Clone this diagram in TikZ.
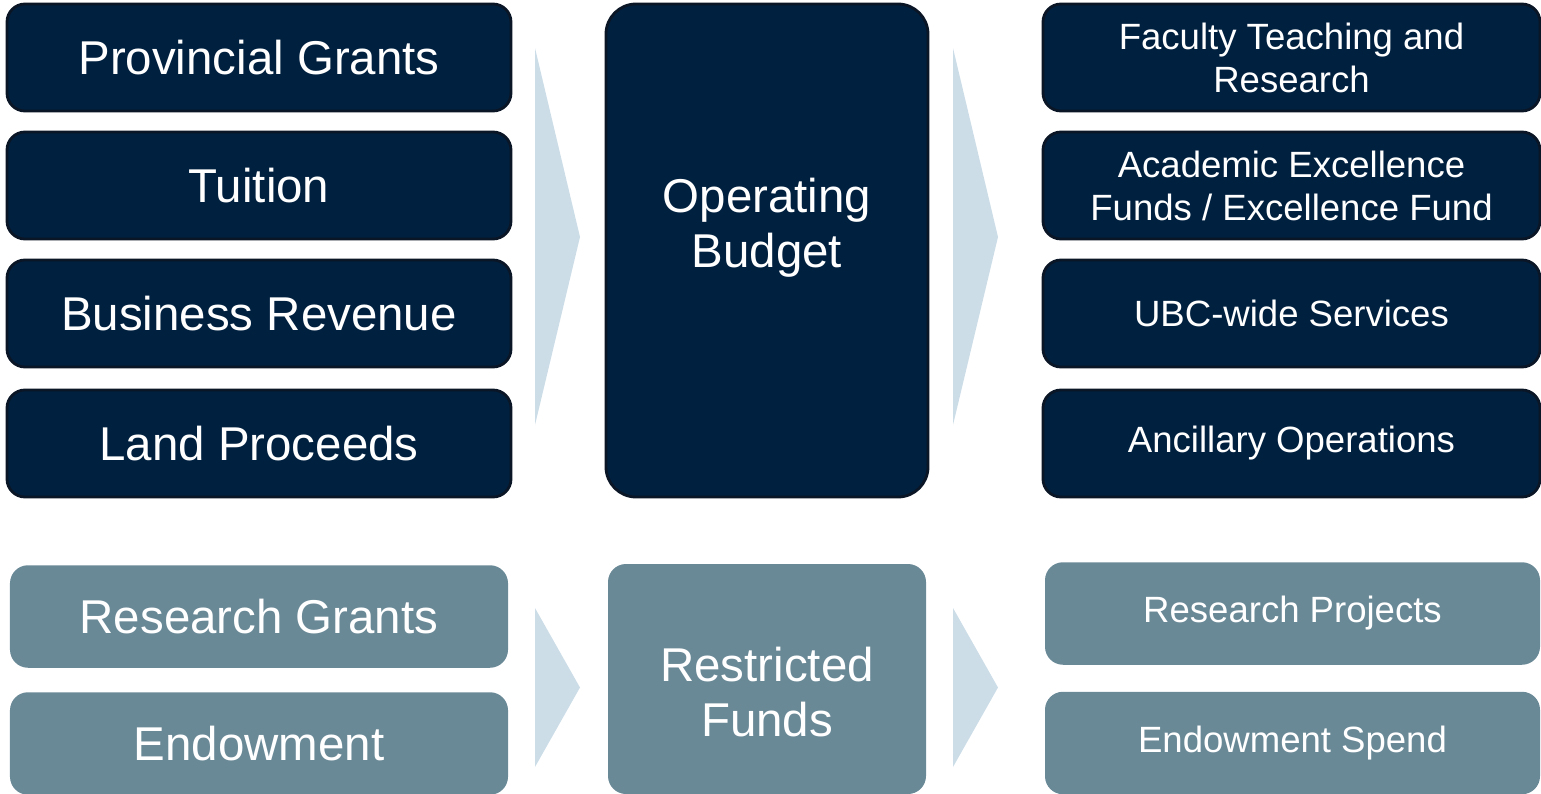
\documentclass[tikz,border=0pt]{standalone}
\usepackage{fontspec}
\setmainfont{Liberation Sans}
\definecolor{navy}{RGB}{0,32,63}
\definecolor{navyedge}{RGB}{10,22,38}
\definecolor{slate}{RGB}{106,137,151}
\definecolor{paleblue}{RGB}{204,221,232}

\begin{document}
\begin{tikzpicture}[
    box/.style={rectangle, rounded corners=0.36cm, text=white, align=center, inner sep=0pt},
    source/.style={box, fill=navy, draw=navyedge, line width=1.6pt, minimum width=10.08cm, minimum height=2.14cm, font=\fontsize{27}{32}\selectfont},
    use/.style={box, fill=navy, draw=navyedge, line width=1.6pt, minimum width=9.94cm, minimum height=2.14cm, font=\fontsize{20.8}{24.4}\selectfont},
    budget/.style={box, fill=navy, draw=navyedge, line width=1.6pt, rounded corners=0.6cm, minimum width=6.44cm, minimum height=9.86cm},
    rsource/.style={box, fill=slate, minimum width=9.96cm, minimum height=2.05cm, font=\fontsize{27}{32}\selectfont},
    ruse/.style={box, fill=slate, minimum width=9.9cm, minimum height=2.05cm, font=\fontsize{20.8}{24.4}\selectfont},
    fund/.style={box, fill=slate, minimum width=6.36cm, minimum height=4.6cm},
    bigtext/.style={text=white, align=center, font=\fontsize{27}{31.5}\selectfont},
    flow/.style={fill=paleblue}
]
\useasboundingbox (0,0) rectangle (30.82,-15.88);
\clip (0,0) rectangle (30.82,-15.88);

% Operating side
\node[source] (PG) at (5.18,-1.15) {Provincial Grants};
\node[source] (TU) at (5.18,-3.71) {Tuition};
\node[source] (BR) at (5.18,-6.27) {Business Revenue};
\node[source] (LP) at (5.18,-8.87) {Land Proceeds};

\node[budget] (OB) at (15.34,-5.01) {};
\node[bigtext] (OB-text) at (15.34,-4.56) {Operating\\Budget};

\node[use] (FT) at (25.83,-1.15) {Faculty Teaching and\\Research};
\node[use] (AE) at (25.83,-3.71) {Academic Excellence\\Funds / Excellence Fund};
\node[use] (US) at (25.83,-6.27) {UBC-wide Services};
\node[use] (AO) at (25.83,-8.87) {Ancillary Operations};

% Restricted side
\node[rsource] (RG) at (5.18,-12.33) {Research Grants};
\node[rsource] (EN) at (5.18,-14.87) {Endowment};

\node[fund] (RF) at (15.34,-13.58) {};
\node[bigtext] (RF-text) at (15.34,-13.84) {Restricted\\Funds};

\node[ruse] (RP) at (25.85,-12.27) {Research Projects};
\node[ruse] (ES) at (25.85,-14.86) {Endowment Spend};

% Flow arrows
\fill[flow] (10.70,-0.96) -- (11.60,-4.74) -- (10.70,-8.50) -- cycle;
\fill[flow] (19.06,-0.96) -- (19.96,-4.74) -- (19.06,-8.50) -- cycle;
\fill[flow] (10.70,-12.16) -- (11.60,-13.75) -- (10.70,-15.34) -- cycle;
\fill[flow] (19.06,-12.16) -- (19.96,-13.75) -- (19.06,-15.34) -- cycle;

\end{tikzpicture}
\end{document}
